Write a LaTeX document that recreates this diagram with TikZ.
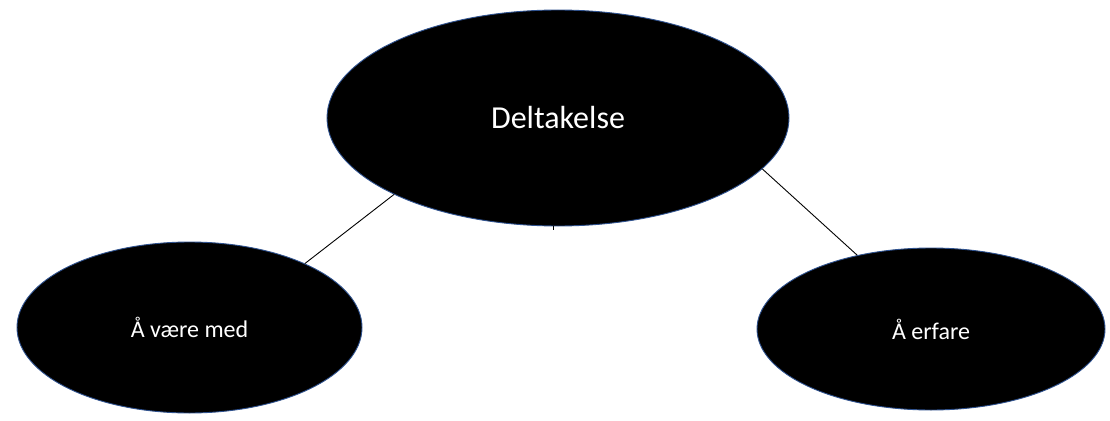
\documentclass[tikz,border=0pt]{standalone}
\usepackage{fontspec}
\setmainfont{Carlito}
\usetikzlibrary{shapes.geometric}
\definecolor{rimblue}{HTML}{2F528F}
\tikzset{
  blob/.style={ellipse, fill=black, draw=rimblue, line width=0.9pt,
    inner sep=0pt, text=white, align=center},
  link/.style={draw=black, line width=0.9pt}
}
\begin{document}
\begin{tikzpicture}[x=1pt, y=-1pt]
  \useasboundingbox[fill=white] (0,0) rectangle (1110,420);
  \node[blob, minimum width=462pt, minimum height=216pt, font=\fontsize{32}{38}\selectfont]
    (top) at (558,118) {Deltakelse};
  \node[blob, minimum width=345pt, minimum height=171pt, font=\fontsize{24}{29}\selectfont]
    (left) at (189.5,327.5) {Å være med};
  \node[blob, minimum width=348pt, minimum height=162pt, font=\fontsize{24}{29}\selectfont]
    (right) at (931,329) {Å erfare};
  \draw[link] (top.205.6) -- (left.29.6);
  \draw[link] (top.-14.3) -- (right.135);
  \coordinate (stub) at (553,229.5);
  \draw[link] (stub |- top.south) -- (stub);
\end{tikzpicture}
\end{document}
